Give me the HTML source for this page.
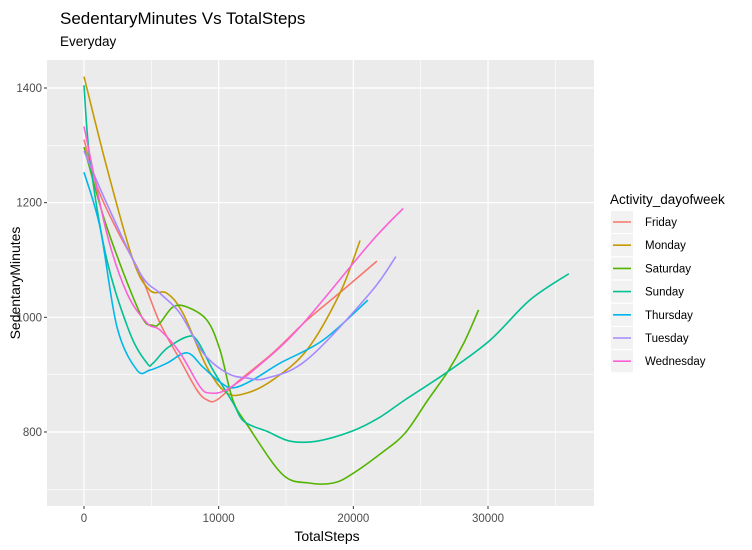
<!DOCTYPE html>
<html><head><meta charset="utf-8"><style>
body{margin:0;background:#fff;}
svg{display:block;font-family:"Liberation Sans",Arial,sans-serif;}
</style></head><body>
<svg id="chart" width="752" height="550">
<text x="60" y="24" font-size="17" fill="#000">SedentaryMinutes Vs TotalSteps</text>
<text x="60" y="46" font-size="13.5" fill="#000">Everyday</text>
<rect x="47" y="60" width="547" height="446" fill="#ebebeb"/>
<g id="grid"></g><g id="lines"></g><g id="axes"></g>
<text x="327" y="541" font-size="14" text-anchor="middle">TotalSteps</text>
<text transform="translate(20,283) rotate(-90)" font-size="14" text-anchor="middle">SedentaryMinutes</text>
<g id="legend"><text x="610" y="204" font-size="13.5">Activity_dayofweek</text></g>
</svg>
<script>
const xTicks=[0,10000,20000,30000];
const yTicks=[800,1000,1200,1400];
const days=["Friday","Monday","Saturday","Sunday","Thursday","Tuesday","Wednesday"];
const colors=["#F8766D","#C49A00","#53B400","#00C094","#00B6EB","#A58AFF","#FB61D7"];
const friday=[[0,1310],[1000,1226],[2500,1150],[4160,1077],[5640,990],[7130,926],[8390,873],[9130,856],[9870,856],[11580,891],[14030,938],[16550,995],[19000,1043],[21750,1098]];
const monday=[[0,1420],[1700,1261],[3640,1100],[4900,1047],[6160,1042],[7350,1007],[9130,913],[10600,868],[12100,868],[14030,891],[16550,943],[19000,1042],[20500,1134]];
const saturday=[[0,1297],[1700,1157],[4160,1007],[5120,986],[5640,990],[6600,1018],[7650,1018],[9130,995],[10100,943],[11050,856],[12190,810],[14740,726],[16700,711],[18500,711],[19860,726],[22130,764],[23840,798],[25540,856],[27000,905],[28200,955],[29300,1013]];
const sunday=[[0,1405],[450,1273],[1700,1100],[3400,973],[4680,920],[5120,920],[6160,946],[7650,966],[8390,960],[9580,908],[11060,851],[11900,818],[13600,801],[15300,784],[17300,784],[19860,801],[21850,824],[23840,856],[27000,905],[30150,960],[33100,1030],[36000,1076]];
const thursday=[[0,1253],[1190,1157],[2450,983],[3930,908],[4900,908],[6160,920],[7650,938],[8840,913],[10100,887],[11060,877],[12550,891],[14550,920],[17740,960],[21080,1030]];
const tuesday=[[0,1290],[1700,1198],[4160,1077],[5640,1042],[7130,1007],[8840,938],[10600,903],[12100,894],[13580,894],[16550,926],[21230,1042],[23160,1106]];
const wednesday=[[0,1333],[1700,1146],[3190,1042],[4680,990],[5640,978],[7130,938],[8610,879],[9350,868],[10600,874],[12850,913],[16030,983],[21230,1129],[23700,1190]];
const series=[friday,monday,saturday,sunday,thursday,tuesday,wednesday];
const NS="http://www.w3.org/2000/svg";
const X=v=>84+(v)*0.013467, Y=v=>88+(1400-v)*0.5733;
const px0=47,px1=594,py0=60,py1=506;
function mk(t,a,p){const e=document.createElementNS(NS,t);for(const k in a)e.setAttribute(k,a[k]);p.appendChild(e);return e;}
const grid=document.getElementById('grid'),axes=document.getElementById('axes'),lines=document.getElementById('lines'),leg=document.getElementById('legend');
const xMinor=[-5000,5000,15000,25000,35000],yMinor=[700,900,1100,1300];
xMinor.forEach(v=>{const x=X(v);if(x>px0&&x<px1){const l=mk('line',{x1:x,x2:x,y1:py0,y2:py1,stroke:'#fff','stroke-width':0.6},grid);}});
yMinor.forEach(v=>{const y=Y(v);const l=mk('line',{x1:px0,x2:px1,y1:y,y2:y,stroke:'#fff','stroke-width':0.6},grid);});
xTicks.forEach(v=>{const x=X(v);const l=mk('line',{x1:x,x2:x,y1:py0,y2:py1,stroke:'#fff','stroke-width':1.2},grid);
const t=mk('line',{x1:x,x2:x,y1:py1,y2:py1+3,stroke:'#333'},axes);
const s=mk('text',{x:x,y:py1+16,'font-size':11.5,fill:'#4d4d4d','text-anchor':'middle'},axes);s.textContent=v;});
yTicks.forEach(v=>{const y=Y(v);const l=mk('line',{x1:px0,x2:px1,y1:y,y2:y,stroke:'#fff','stroke-width':1.2},grid);
const t=mk('line',{x1:px0-3,x2:px0,y1:y,y2:y,stroke:'#333'},axes);
const s=mk('text',{x:px0-5,y:y+4,'font-size':11.5,fill:'#4d4d4d','text-anchor':'end'},axes);s.textContent=v;});
function smooth(p){let d='M'+p[0][0]+','+p[0][1];for(let i=0;i<p.length-1;i++){const p0=p[Math.max(i-1,0)],p1=p[i],p2=p[i+1],p3=p[Math.min(i+2,p.length-1)];
d+=' C'+(p1[0]+(p2[0]-p0[0])/6)+','+(p1[1]+(p2[1]-p0[1])/6)+' '+(p2[0]-(p3[0]-p1[0])/6)+','+(p2[1]-(p3[1]-p1[1])/6)+' '+p2[0]+','+p2[1];}return d;}
series.forEach((s,i)=>{const pts=s.map(q=>[X(q[0]),Y(q[1])]);
const p=mk('path',{d:smooth(pts),fill:'none',stroke:colors[i],'stroke-width':1.6},lines);


const ly=222+i*23.2;
const r=mk('rect',{x:611,y:ly-11,width:22,height:22,fill:'#f2f2f2'},leg);


const k=mk('line',{x1:613,x2:631,y1:ly,y2:ly,stroke:colors[i],'stroke-width':1.6},leg);


const t=mk('text',{x:645,y:ly+4,'font-size':11.5,fill:'#000'},leg);t.textContent=days[i];

});
</script>
</body></html>
